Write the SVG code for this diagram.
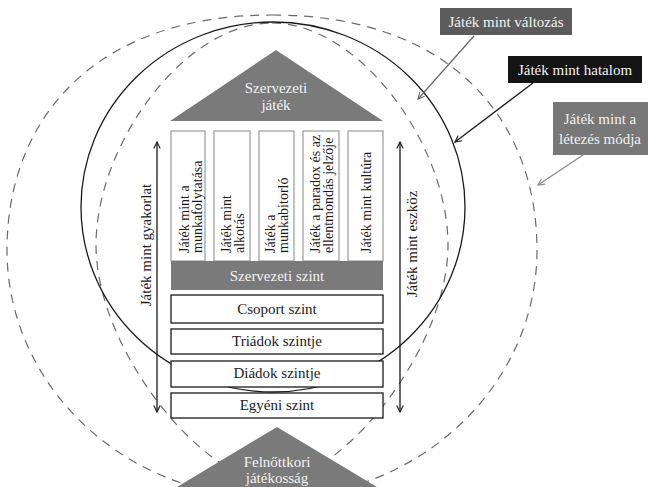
<svg xmlns="http://www.w3.org/2000/svg" width="648" height="487" viewBox="0 0 648 487">
<style>
text{font-family:"Liberation Serif","DejaVu Serif",serif;font-size:15px;}
.w{fill:#f2f2f2;text-anchor:middle;}
.k{fill:#1a1a1a;text-anchor:middle;}
.p{fill:#1a1a1a;font-size:14px;}
.side{fill:#1a1a1a;text-anchor:middle;}
.dash{fill:none;stroke:#6a6a6a;stroke-width:1.2;stroke-dasharray:9 7;}
.solid{fill:none;stroke:#1a1a1a;stroke-width:1.3;}
.box{fill:#fff;stroke:#1a1a1a;stroke-width:1.3;}
.pillar{fill:#fff;stroke:#9a9a9a;stroke-width:1.2;}
.gray{fill:#7a7a7a;}
</style>
<defs>
<marker id="ak" viewBox="0 0 10 10" refX="9" refY="5" markerWidth="8" markerHeight="8" markerUnits="userSpaceOnUse" orient="auto-start-reverse"><path d="M1,1 L9,5 L1,9" fill="none" stroke="#1a1a1a" stroke-width="1.4"/></marker>
<marker id="ag" viewBox="0 0 10 10" refX="9" refY="5" markerWidth="8" markerHeight="8" markerUnits="userSpaceOnUse" orient="auto"><path d="M1,1 L9,5 L1,9" fill="none" stroke="#666" stroke-width="1.4"/></marker>
<marker id="ag2" viewBox="0 0 10 10" refX="9" refY="5" markerWidth="8" markerHeight="8" markerUnits="userSpaceOnUse" orient="auto"><path d="M1,1 L9,5 L1,9" fill="none" stroke="#888" stroke-width="1.4"/></marker>
</defs>

<g id="outer-dashed">
<path class="dash" d="M272,15 C452,15 537,121 537,250 C537,387 418,498 272,498 C126,498 7,387 7,250 C7,121 92,15 272,15 Z"/>
</g>
<g id="inner-dashed">
<path class="dash" d="M272,23 C360,23 448,145 448,245 C448,350 340,482 272,482 C204,482 96,350 96,245 C96,145 184,23 272,23 Z"/>
</g>
<g id="solid-circle">
<ellipse class="solid" cx="273" cy="207" rx="192" ry="185"/>
</g>

<g id="szervezeti-jatek">
<polygon class="gray" points="276,50 170,121 383,121"/>
<text class="w" x="276" y="93">Szervezeti</text>
<text class="w" x="276" y="110">játék</text>
</g>

<g id="pillar1">
<rect class="pillar" x="171" y="131" width="34" height="130"/>
<text class="p" transform="translate(189,253) rotate(-90)">Játék mint a</text>
<text class="p" transform="translate(202,253) rotate(-90)">munkafolytatása</text>
</g>
<g id="pillar2">
<rect class="pillar" x="214" y="131" width="36" height="130"/>
<text class="p" transform="translate(231,253) rotate(-90)">Játék mint</text>
<text class="p" transform="translate(244,253) rotate(-90)">alkotás</text>
</g>
<g id="pillar3">
<rect class="pillar" x="259" y="131" width="35" height="130"/>
<text class="p" transform="translate(275,253) rotate(-90)">Játék a</text>
<text class="p" transform="translate(288,253) rotate(-90)">munkabitorló</text>
</g>
<g id="pillar4">
<rect class="pillar" x="303" y="131" width="36" height="130"/>
<text class="p" transform="translate(320,253) rotate(-90)">Játék a paradox és az</text>
<text class="p" transform="translate(333,253) rotate(-90)">ellentmondás jelzője</text>
</g>
<g id="pillar5">
<rect class="pillar" x="348" y="131" width="35" height="130"/>
<text class="p" transform="translate(371,253) rotate(-90)">Játék mint kultúra</text>
</g>

<g id="szervezeti-szint">
<rect class="gray" x="171" y="261" width="212" height="29"/>
<text class="w" x="277" y="281">Szervezeti szint</text>
</g>
<g id="csoport-szint">
<rect class="box" x="171" y="295" width="212" height="28"/>
<text class="k" x="277" y="314">Csoport szint</text>
</g>
<g id="triadok-szintje">
<rect class="box" x="171" y="329" width="212" height="25"/>
<text class="k" x="277" y="346">Triádok szintje</text>
</g>
<g id="diadok-szintje">
<rect class="box" x="171" y="361" width="212" height="26"/>
<text class="k" x="277" y="378">Diádok szintje</text>
</g>
<g id="egyeni-szint">
<rect class="box" x="171" y="393" width="212" height="25"/>
<text class="k" x="277" y="410">Egyéni szint</text>
</g>

<g id="felnottkori">
<polygon class="gray" points="277,427 172,490 382,490"/>
<text class="w" x="277" y="467">Felnőttkori</text>
<text class="w" x="277" y="483">játékosság</text>
</g>

<g id="label-valtozas">
<rect x="440" y="8" width="132" height="27" fill="#5c5c5c"/>
<text class="w" x="506" y="27">Játék mint változás</text>
</g>
<g id="label-hatalom">
<rect x="508" y="56" width="134" height="27" fill="#141414"/>
<text class="w" x="575" y="75">Játék mint hatalom</text>
</g>
<g id="label-letezes">
<rect x="553" y="102" width="95" height="53" fill="#787878"/>
<text class="w" x="600" y="124">Játék mint a</text>
<text class="w" x="600" y="144">létezés módja</text>
</g>
<g id="label-gyakorlat">
<text class="side" transform="translate(151,245) rotate(-90)">Játék mint gyakorlat</text>
</g>
<g id="label-eszkoz">
<text class="side" transform="translate(417,244) rotate(-90)">Játék mint eszköz</text>
</g>

<g id="connectors">
<line x1="157" y1="412" x2="157" y2="142" stroke="#1a1a1a" stroke-width="1.3" marker-start="url(#ak)" marker-end="url(#ak)"/>
<line x1="400" y1="412" x2="400" y2="142" stroke="#1a1a1a" stroke-width="1.3" marker-start="url(#ak)" marker-end="url(#ak)"/>
<line x1="474" y1="36" x2="418" y2="99" stroke="#666" stroke-width="1.2" marker-end="url(#ag)"/>
<line x1="533" y1="83" x2="455" y2="142" stroke="#1a1a1a" stroke-width="1.3" marker-end="url(#ak)"/>
<line x1="583" y1="155" x2="538" y2="185" stroke="#888" stroke-width="1.2" marker-end="url(#ag2)"/>
</g>
</svg>
